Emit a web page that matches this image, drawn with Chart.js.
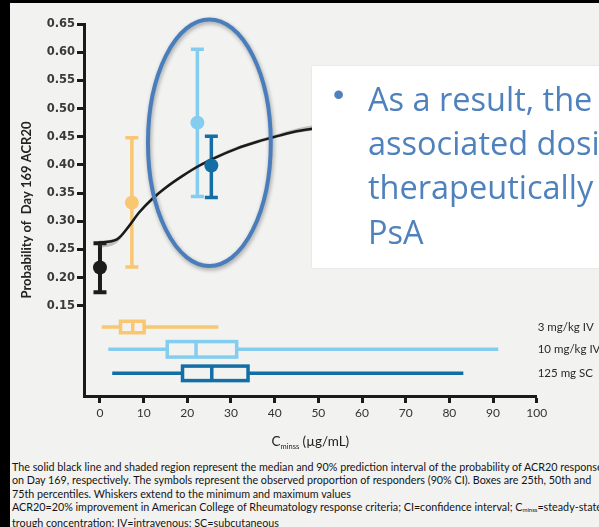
<!DOCTYPE html>
<html>
<head>
<meta charset="utf-8">
<script src="https://cdn.jsdelivr.net/npm/chart.js@4.4.1/dist/chart.umd.min.js"></script>
<style>
  html, body { margin: 0; padding: 0; width: 599px; height: 527px; overflow: hidden; background: #f2f2f1; }
  #frameL { position: absolute; left: 0; top: 0; width: 10px; height: 527px; background: #000; }
  #frameT { position: absolute; left: 0; top: 0; width: 599px; height: 3px; background: #000; }
  #chart { position: absolute; left: 0; top: 0; }
  #callout { position: absolute; left: 312px; top: 66px; width: 300px; height: 202px; background: #fff;
             box-shadow: 0 0 2px rgba(0,0,0,0.10); font-family: "Open Sans", sans-serif; font-size: 32.5px;
             color: #4f81bd; white-space: nowrap; overflow: hidden; }
  #callout .bullet { position: absolute; left: 21px; top: 10px; font-family: "Liberation Sans", sans-serif; font-size: 32px; }
  #callout .lines { position: absolute; left: 56px; top: 11px; line-height: 44.2px; }
  #notes { position: absolute; left: 12px; top: 460px; width: 600px; font-family: Lato, sans-serif; font-size: 10.75px;
           line-height: 13.3px; color: #141414; white-space: nowrap; }
  #notes sub { font-size: 6px; vertical-align: -1px; }
</style>
</head>
<body>
<div id="frameL"></div>
<div id="frameT"></div>
<canvas id="chart" width="599" height="460"></canvas>
<div id="callout">
  <span class="bullet">•</span>
  <div class="lines">As a result, the<br>associated dosi<br>therapeutically<br>PsA</div>
</div>
<div id="notes">
  The solid black line and shaded region represent the median and 90% prediction interval of the probability of ACR20 response<br>
  on Day 169, respectively. The symbols represent the observed proportion of responders (90% CI). Boxes are 25th, 50th and<br>
  75th percentiles. Whiskers extend to the minimum and maximum values<br>
  ACR20=20% improvement in American College of Rheumatology response criteria; CI=confidence interval; C<sub>minss</sub>=steady-state<br>
  trough concentration; IV=intravenous; SC=subcutaneous
</div>
<script>
// Axis ticks
const xTicks = [0, 10, 20, 30, 40, 50, 60, 70, 80, 90, 100];
const yTicks = [0.15, 0.20, 0.25, 0.30, 0.35, 0.40, 0.45, 0.50, 0.55, 0.60, 0.65];

// Model-predicted probability of ACR20 vs Cminss: median and 90% prediction interval
const curveX   = [-0.4, 3.9, 6.6, 8.9, 12.0, 15.1, 19.0, 22.8, 26.7, 31.3, 36.0, 40.6, 45.3, 49.2];
const curveMed = [0.262, 0.268, 0.291, 0.315, 0.340, 0.360, 0.381, 0.399, 0.414, 0.429, 0.441, 0.451, 0.460, 0.465];
const curveLo  = [0.252, 0.262, 0.288, 0.312, 0.337, 0.357, 0.378, 0.396, 0.411, 0.426, 0.438, 0.448, 0.457, 0.461];
const curveHi  = [0.265, 0.271, 0.294, 0.318, 0.343, 0.363, 0.384, 0.402, 0.417, 0.432, 0.444, 0.455, 0.465, 0.471];

// Observed proportion of responders (90% CI) per group, placed at median Cminss
const obsGroups = ['Placebo', '3 mg/kg IV', '10 mg/kg IV', '125 mg SC'];
const obsX  = [0, 7.3, 22.3, 25.5];
const obsP  = [0.218, 0.333, 0.475, 0.399];
const obsLo = [0.174, 0.219, 0.344, 0.342];
const obsHi = [0.261, 0.448, 0.605, 0.451];
const obsColors = ['#1c1c1c', '#f9c672', '#84cdef', '#136ea6'];

// Cminss distributions per dose group (min, 25th, 50th, 75th, max)
const boxLabels = ['3 mg/kg IV', '10 mg/kg IV', '125 mg SC'];
const boxMin = [0.4, 1.9, 2.8];
const boxQ1  = [4.7, 15.4, 18.9];
const boxMed = [7.5, 22.0, 25.6];
const boxQ3  = [10.1, 31.3, 33.9];
const boxMax = [27.1, 91.2, 83.2];
const boxColors = ['#f9c672', '#84cdef', '#136ea6'];

// Layout of the box-plot strip below the response axis (y-scale units / pixels)
const boxRowY = [0.1124, 0.0728, 0.0302];
const boxHeightPx = [15, 19, 18];

// Highlight ellipse around the two higher-exposure groups (data units)
const highlight = { cx: 25.05, cy: 0.4393, rx: 14.06, ry: 0.2188 };

const errorBars = {
  id: 'errorBars',
  beforeDatasetsDraw(chart) {
    const { ctx, scales: { x, y } } = chart;
    ctx.save();
    ctx.lineCap = 'butt';
    obsX.forEach((v, i) => {
      const px = x.getPixelForValue(v);
      const top = y.getPixelForValue(obsHi[i]);
      const bot = y.getPixelForValue(obsLo[i]);
      ctx.strokeStyle = obsColors[i];
      ctx.lineWidth = i === 0 ? 4 : 3.5;
      ctx.beginPath();
      ctx.moveTo(px, top); ctx.lineTo(px, bot);
      ctx.moveTo(px - 6.5, top); ctx.lineTo(px + 6.5, top);
      ctx.moveTo(px - 6.5, bot); ctx.lineTo(px + 6.5, bot);
      ctx.stroke();
    });
    ctx.restore();
  }
};

const boxPlots = {
  id: 'boxPlots',
  afterDatasetsDraw(chart) {
    const { ctx, scales: { x, y }, chartArea } = chart;
    ctx.save();
    ctx.lineWidth = 3.5;
    ctx.lineCap = 'butt';
    boxLabels.forEach((label, i) => {
      const cy = y.getPixelForValue(boxRowY[i]);
      const h = boxHeightPx[i] - 3.5;
      const xMin = x.getPixelForValue(boxMin[i]);
      const xQ1 = x.getPixelForValue(boxQ1[i]);
      const xMed = x.getPixelForValue(boxMed[i]);
      const xQ3 = x.getPixelForValue(boxQ3[i]);
      const xMax = x.getPixelForValue(boxMax[i]);
      ctx.strokeStyle = boxColors[i];
      ctx.beginPath();
      ctx.moveTo(xMin, cy); ctx.lineTo(xQ1, cy);
      ctx.moveTo(xQ3, cy); ctx.lineTo(xMax, cy);
      ctx.moveTo(xMed, cy - h / 2); ctx.lineTo(xMed, cy + h / 2);
      ctx.stroke();
      ctx.strokeRect(xQ1, cy - h / 2, xQ3 - xQ1, h);
      ctx.fillStyle = '#2a2a2a';
      ctx.font = '11.5px Lato, sans-serif';
      ctx.textBaseline = 'middle';
      ctx.textAlign = 'left';
      ctx.fillText(label, chartArea.right + 1, cy);
    });
    ctx.restore();
  }
};

const overlay = {
  id: 'overlay',
  afterDraw(chart) {
    const { ctx, scales: { x, y }, chartArea } = chart;
    // x-axis title with subscript
    ctx.save();
    const big = '13.5px Lato, sans-serif', small = '7.5px Lato, sans-serif';
    ctx.font = big; const wC = ctx.measureText('C').width;
    const wRest = ctx.measureText(' (\u00b5g/mL)').width;
    ctx.font = small; const wSub = ctx.measureText('minss').width;
    let tx = (chartArea.left + chartArea.right) / 2 - (wC + wSub + wRest) / 2;
    const base = 446;
    ctx.fillStyle = '#222';
    ctx.textBaseline = 'alphabetic';
    ctx.font = big; ctx.fillText('C', tx, base); tx += wC;
    ctx.font = small; ctx.fillText('minss', tx, base + 3); tx += wSub;
    ctx.font = big; ctx.fillText(' (\u00b5g/mL)', tx, base);
    ctx.restore();

    // highlight ellipse
    const cx = x.getPixelForValue(highlight.cx);
    const cy = y.getPixelForValue(highlight.cy);
    const rx = x.getPixelForValue(highlight.cx + highlight.rx) - cx;
    const ry = cy - y.getPixelForValue(highlight.cy + highlight.ry);
    ctx.save();
    ctx.shadowColor = 'rgba(0,0,0,0.35)';
    ctx.shadowBlur = 4;
    ctx.shadowOffsetX = 1;
    ctx.shadowOffsetY = 2;
    ctx.strokeStyle = '#4a7dbb';
    ctx.lineWidth = 4;
    ctx.beginPath();
    ctx.ellipse(cx, cy, rx, ry, 0, 0, Math.PI * 2);
    ctx.stroke();
    ctx.restore();
  }
};

new Chart(document.getElementById('chart'), {
  type: 'scatter',
  data: {
    datasets: [
      {
        label: 'Observed',
        data: obsX.map((v, i) => ({ x: v, y: obsP[i] })),
        pointRadius: 7,
        pointHoverRadius: 7,
        pointBackgroundColor: obsColors,
        pointBorderWidth: 0,
        showLine: false,
        order: 0
      },
      {
        type: 'line',
        label: 'Median',
        data: curveX.map((v, i) => ({ x: v, y: curveMed[i] })),
        borderColor: '#1b1b1b',
        borderWidth: 2.5,
        pointRadius: 0,
        cubicInterpolationMode: 'monotone',
        fill: false,
        order: 1
      },
      {
        type: 'line',
        label: '90% PI upper',
        data: curveX.map((v, i) => ({ x: v, y: curveHi[i] })),
        borderWidth: 0,
        borderColor: 'rgba(0,0,0,0)',
        backgroundColor: 'rgba(60,60,60,0.28)',
        pointRadius: 0,
        cubicInterpolationMode: 'monotone',
        fill: '+1',
        order: 2
      },
      {
        type: 'line',
        label: '90% PI lower',
        data: curveX.map((v, i) => ({ x: v, y: curveLo[i] })),
        borderWidth: 0,
        borderColor: 'rgba(0,0,0,0)',
        pointRadius: 0,
        cubicInterpolationMode: 'monotone',
        fill: false,
        order: 3
      }
    ]
  },
  options: {
    responsive: false,
    animation: false,
    events: [],
    layout: { padding: { left: 10, right: 62.3, top: 24, bottom: 0 } },
    plugins: { legend: { display: false }, tooltip: { enabled: false } },
    scales: {
      x: {
        type: 'linear',
        min: -3.66,
        max: 100,
        afterBuildTicks: s => { s.ticks = xTicks.map(v => ({ value: v })); },
        afterFit: s => { s.height = 64; },
        border: { display: true, width: 3, color: '#1a1a1a' },
        grid: { drawOnChartArea: false, drawTicks: true, tickLength: 7, tickWidth: 3, tickColor: '#1a1a1a' },
        ticks: { color: '#333', font: { family: 'Lato', size: 12 }, padding: 3, maxRotation: 0,
                 callback: v => String(v) },
        title: { display: false }
      },
      y: {
        type: 'linear',
        min: -0.01,
        max: 0.65,
        afterBuildTicks: s => { s.ticks = yTicks.map(v => ({ value: v })); },
        afterFit: s => { s.width = 74; },
        border: { display: true, width: 3, color: '#1a1a1a' },
        grid: { drawOnChartArea: false, drawTicks: true, tickLength: 7, tickWidth: 3, tickColor: '#1a1a1a' },
        ticks: { color: '#3a3a3a', font: { family: 'DejaVu Sans', size: 11.5, weight: 'bold' }, padding: 2,
                 callback: v => v.toFixed(2) },
        title: { display: true, text: 'Probability of  Day 169 ACR20', color: '#222',
                 font: { family: 'Lato', size: 13, weight: 'bold' }, padding: { top: 9, bottom: 0 } }
      }
    }
  },
  plugins: [errorBars, boxPlots, overlay]
});
</script>
</body>
</html>
